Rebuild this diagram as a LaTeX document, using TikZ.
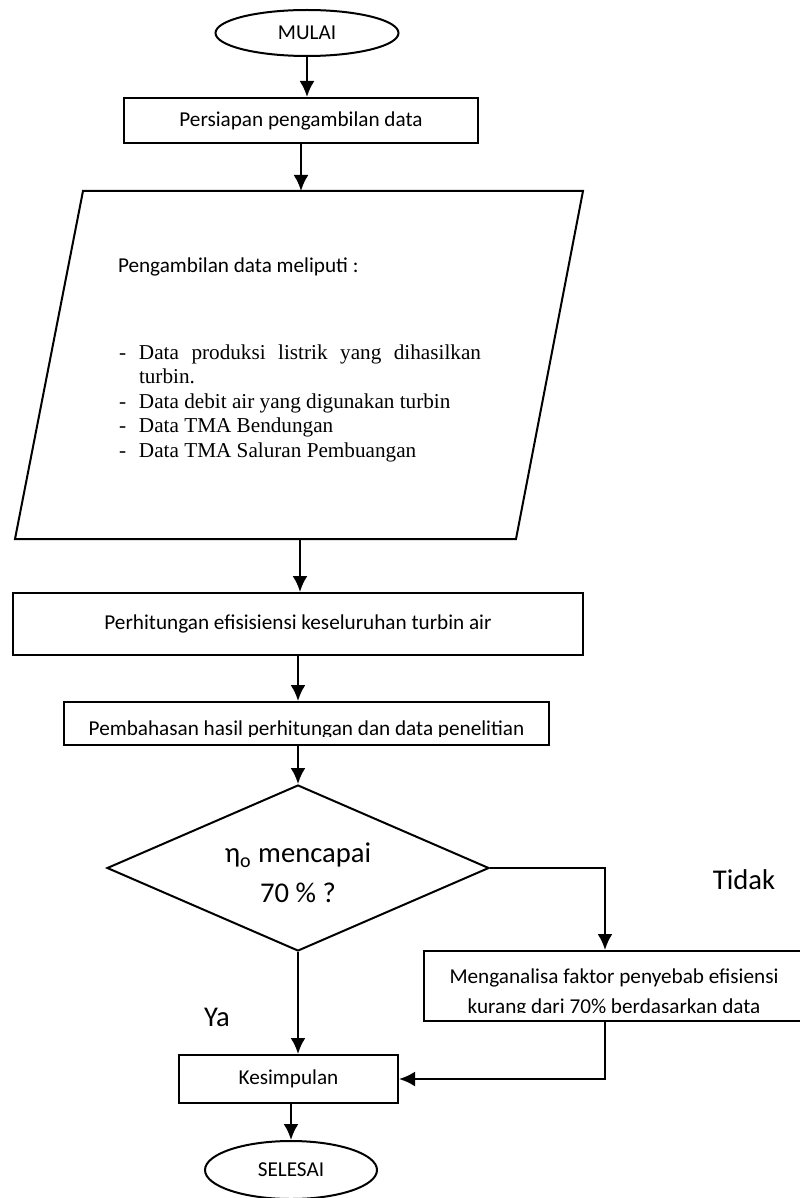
\documentclass[tikz,border=0pt]{standalone}
\usepackage{fontspec}
\setmainfont{Carlito}
\newfontfamily\hurufserif{Liberation Serif}
\usetikzlibrary{shapes.geometric}
\usetikzlibrary{arrows.meta,arrows}

% one item of the data list, dash and hanging indent
\newcommand{\butir}[1]{\hangindent=10pt \hangafter=1 \noindent\makebox[10pt][l]{-}#1\par}

\begin{document}
\begin{tikzpicture}[x=0.5pt, y=-0.5pt, line width=1pt, >={Latex[length=8pt, width=7.5pt]},
        kotak/.style={draw, rectangle, inner sep=0pt},
        oval/.style={draw, ellipse, inner sep=0pt},
        panah/.style={->, line width=1.2pt},
        teks/.style={font=\fontsize{10.6pt}{15pt}\selectfont},
        besar/.style={font=\fontsize{14.3pt}{20pt}\selectfont}]

        \useasboundingbox (0,0) rectangle (799,1198);

        % Nodes top
        \node at (307,33) [oval, teks, minimum width=91.5pt, minimum height=23pt] (mulai) {MULAI};
        \node at (301,120.5) [kotak, teks, minimum width=177pt, minimum height=22.5pt] (siap) {Persiapan pengambilan data};

        % Data input (parallelogram)
        \coordinate (ambilN) at (306,191);
        \coordinate (ambilS) at (300,539);
        \draw (83,191) -- (583,191) -- (516,539) -- (15,539) -- cycle;
        \node at (117,267) [anchor=west, teks, inner sep=0pt] (ambiljudul) {Pengambilan data meliputi :};
        \node at (118,359) [anchor=base west, inner sep=0pt] (ambildaftar) {\parbox[t]{181pt}{\hurufserif\fontsize{10.6pt}{12.25pt}\selectfont
            \tolerance=9999 \hyphenpenalty=10000
            \butir{Data produksi listrik yang dihasilkan turbin.}
            \butir{Data debit air yang digunakan turbin}
            \butir{Data TMA Bendungan}
            \butir{Data TMA Saluran Pembuangan}}};

        \node at (298,624) [kotak, teks, minimum width=285pt, minimum height=31pt] (hitung) {Perhitungan efisisiensi keseluruhan turbin air};
        \node at (306.5,723.5) [kotak, minimum width=242.5pt, minimum height=21.5pt] (bahas) {};
        \begin{scope}
            \clip (64,702) rectangle (549,736);
            \node at (306.5,735) [anchor=base, teks, inner sep=0pt] (bahasteks) {Pembahasan hasil perhitungan dan data penelitian};
        \end{scope}

        % Nodes bottom
        \node at (298,868) [draw, diamond, aspect=2.3, inner sep=0pt, minimum width=191pt, minimum height=83pt] (cek) {};
        \node at (298,873) [besar, align=center, inner sep=0pt] (cekteks) {η\textsubscript{o} mencapai\\70 \% ?};
        \node at (744,880) [besar] (tidak) {Tidak};
        \node at (217,1017) [besar] (ya) {Ya};
        \node at (612.5,986) [kotak, minimum width=188.5pt, minimum height=35pt] (analisa) {};
        \begin{scope}
            \clip (424,951) rectangle (801,1012);
            \node at (614,993) [teks, align=center, inner sep=0pt] (analisateks) {Menganalisa faktor penyebab efisiensi\\kurang dari 70\% berdasarkan data};
        \end{scope}
        \node at (288.5,1079) [kotak, teks, minimum width=109.5pt, minimum height=24pt] (simpul) {Kesimpulan};
        \node at (291,1170) [oval, teks, minimum width=86pt, minimum height=29pt] (selesai) {SELESAI};
        \coordinate (belok) at (605,868);

        % Arrows
        \draw[panah] (mulai) -- (mulai |- siap.north);
        \draw[panah] (siap) -- (siap |- ambilN);
        \draw[panah] (ambilS) -- (ambilS |- hitung.north);
        \draw[panah] (hitung) -- (hitung |- bahas.north);
        \draw[panah] (cek.north |- bahas.south) -- (cek.north);
        \draw[panah] (cek.east) -- (belok) -- (belok |- analisa.north);
        \draw[panah] (cek.south) -- (cek.south |- simpul.north);
        \draw[panah] (belok |- analisa.south) -- (belok |- simpul.east) -- (simpul.east);
        \draw[panah] (selesai |- simpul.south) -- (selesai.north);

\end{tikzpicture}
\end{document}
